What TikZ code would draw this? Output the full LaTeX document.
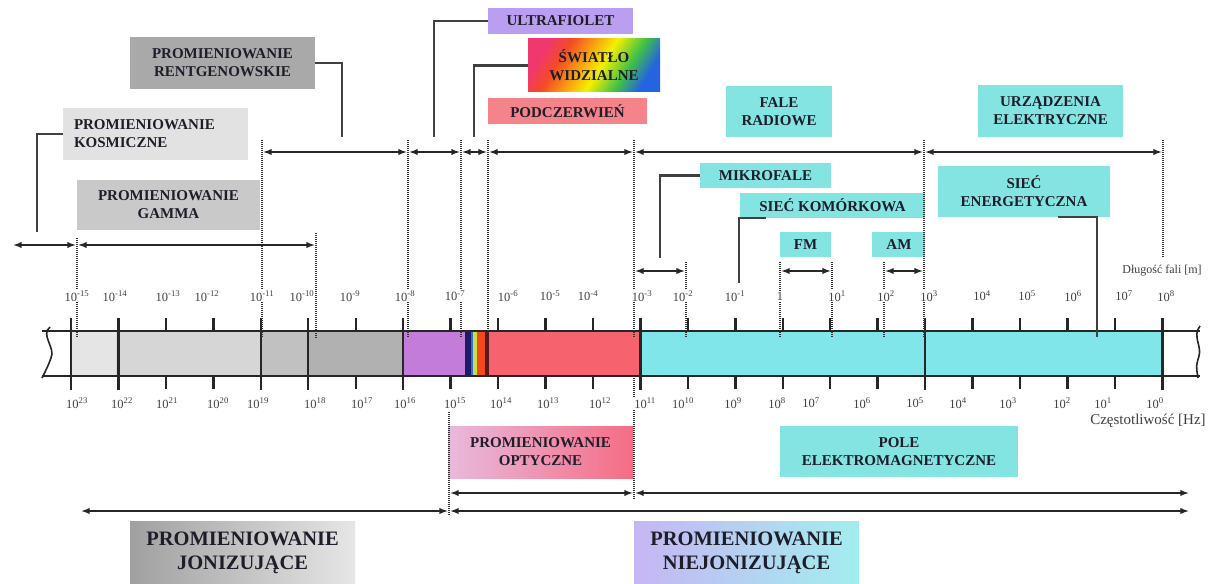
\documentclass[tikz,border=0pt]{standalone}
\usepackage{fontspec}
\setmainfont{Liberation Serif}
\usetikzlibrary{positioning,calc}
\definecolor{tagtext}{HTML}{1E1E2A}
\definecolor{leadgray}{HTML}{404040}
\definecolor{rtgfill}{HTML}{A9A9A9}
\definecolor{kosfill}{HTML}{E2E2E2}
\definecolor{gamfill}{HTML}{C9C9C9}
\definecolor{uvfill}{HTML}{BA9FF0}
\definecolor{irfill}{HTML}{F4838A}
\definecolor{radfill}{HTML}{84E4E2}
\definecolor{barA}{HTML}{E5E5E5}
\definecolor{barB}{HTML}{D6D6D6}
\definecolor{barC}{HTML}{C1C1C1}
\definecolor{barD}{HTML}{B1B1B1}
\definecolor{barUV}{HTML}{C47CDB}
\definecolor{barNavy}{HTML}{1C1C66}
\definecolor{barBlue}{HTML}{3A6AE0}
\definecolor{barLime}{HTML}{C8E040}
\definecolor{barOrange}{HTML}{F24A1A}
\definecolor{barDark}{HTML}{5A1A1A}
\definecolor{barIR}{HTML}{F6636F}
\definecolor{barRad}{HTML}{80E6EA}
\definecolor{optL}{HTML}{E8BADC}
\definecolor{optR}{HTML}{F66C84}
\definecolor{jonL}{HTML}{A0A0A0}
\definecolor{jonR}{HTML}{E6E6E6}
\definecolor{niejL}{HTML}{C6B6F4}
\definecolor{niejR}{HTML}{A2EEEE}
\definecolor{rbPink}{HTML}{F0386E}
\definecolor{rbRed}{HTML}{F44A24}
\definecolor{rbOrange}{HTML}{F8A010}
\definecolor{rbYellow}{HTML}{F4F000}
\definecolor{rbGreen}{HTML}{40C048}
\definecolor{rbBlue}{HTML}{2464E0}
\pgfdeclarehorizontalshading{rainbow}{100bp}{color(0bp)=(rbPink); color(25bp)=(rbPink); color(34bp)=(rbRed); color(44bp)=(rbOrange); color(53bp)=(rbYellow); color(65bp)=(rbGreen); color(75bp)=(rbBlue); color(100bp)=(rbBlue)}

\begin{document}
\begin{tikzpicture}[x=1pt,y=-1pt,
    tick label/.style={text=black!75, fill=white, font=\fontsize{12.5}{13}\selectfont, inner sep=1pt}]
  \tikzstyle{tag}=[text=tagtext, font=\fontsize{15}{18}\selectfont\bfseries, align=center, inner sep=0pt]
  \tikzstyle{big tag}=[tag, font=\fontsize{20.5}{24}\selectfont\bfseries]
  \tikzstyle{span}=[latex-latex, line width=1.8pt, black!85, shorten <=1.5pt, shorten >=1.5pt]
  \tikzstyle{lead}=[line width=2.4pt, leadgray]
  \tikzstyle{guide}=[dash pattern=on 1pt off 1pt, line width=1.2pt, black!80]
  \tikzstyle{bar edge}=[line width=1.6pt, black!85]
  \tikzstyle{scaletick}=[line width=2.4pt, black!85]
  \useasboundingbox (0,0) rectangle (1214,583);

  % bar of the spectrum
  \foreach \a/\b/\c in {71/116/barA, 116/260/barB, 260/307/barC, 307/403/barD,
      403/465/barUV, 465/471/barNavy, 471/473/barBlue, 473/477/barLime,
      477/485/barOrange, 485/489/barDark, 489/639/barIR, 639/1162/barRad}
    \fill[\c] (\a,331) rectangle (\b,376);
  \draw[bar edge] (42,331) -- (1200,331) (42,376) -- (1200,376);
  \draw[bar edge] (50,327) .. controls (40,335) and (56,348) .. (51,358) .. controls (48,366) .. (42,378);
  \draw[bar edge] (1200,326) .. controls (1192,336) and (1202,346) .. (1199,356) .. controls (1196,366) .. (1198,378);
  \foreach \k in {0,1,4,5,7,12,18,23}
    \draw[scaletick] (71+47.45*\k,318) -- (71+47.45*\k,390);
  \foreach \k in {2,3,6,8,9,10,11,13,14,15,16,17,19,20,21,22}
    \draw[scaletick] (71+47.45*\k,318) -- (71+47.45*\k,331) (71+47.45*\k,376) -- (71+47.45*\k,389);

  % boxes
  \node[tag, fill=rtgfill, minimum width=185pt, minimum height=52pt] (rtg) at (222.5,63) {PROMIENIOWANIE\\RENTGENOWSKIE};
  \node[tag, fill=kosfill, align=left, text width=163pt, minimum width=185pt, minimum height=52pt] (kos) at (155.5,134) {PROMIENIOWANIE\\KOSMICZNE};
  \node[tag, fill=gamfill, minimum width=183pt, minimum height=50pt] (gam) at (168.5,205) {PROMIENIOWANIE\\GAMMA};
  \node[tag, fill=uvfill, minimum width=145pt, minimum height=26pt] (uv) at (560.5,21) {ULTRAFIOLET};
  \node[tag, shading=rainbow, shading angle=-32, minimum width=132pt, minimum height=53pt] (vis) at (594,65.5) {ŚWIATŁO\\WIDZIALNE};
  \node[tag, fill=irfill, minimum width=159pt, minimum height=26pt] (ir) at (567.5,111) {PODCZERWIEŃ};
  \node[tag, fill=radfill, minimum width=106pt, minimum height=51pt] (rad) at (779,111.5) {FALE\\RADIOWE};
  \node[tag, fill=radfill, minimum width=145pt, minimum height=52pt] (urz) at (1050.5,111) {URZĄDZENIA\\ELEKTRYCZNE};
  \node[tag, fill=radfill, minimum width=131pt, minimum height=25pt] (mik) at (765.5,175.5) {MIKROFALE};
  \node[tag, fill=radfill, minimum width=185pt, minimum height=25pt] (kom) at (832.5,205.5) {SIEĆ KOMÓRKOWA};
  \node[tag, fill=radfill, minimum width=51pt, minimum height=25pt] (fm) at (805.5,244.5) {FM};
  \node[tag, fill=radfill, minimum width=53pt, minimum height=25pt, right=41pt of fm] (am) {AM};
  \node[tag, fill=radfill, minimum width=172pt, minimum height=51pt] (ene) at (1024,191.5) {SIEĆ\\ENERGETYCZNA};
  \node[tag, left color=optL, right color=optR, minimum width=185pt, minimum height=52pt] (opt) at (540.5,452) {PROMIENIOWANIE\\OPTYCZNE};
  \node[tag, fill=radfill, minimum width=238pt, minimum height=51pt] (pole) at (899,451.5) {POLE\\ELEKTROMAGNETYCZNE};
  \node[big tag, left color=jonL, right color=jonR, minimum width=225pt, minimum height=64pt] (jon) at (242.5,553) {PROMIENIOWANIE\\JONIZUJĄCE};
  \node[big tag, left color=niejL, right color=niejR, minimum width=225pt, minimum height=64pt] (niej) at (746.5,553) {PROMIENIOWANIE\\NIEJONIZUJĄCE};

  % leads from the boxes
  \coordinate (rtgEnd) at (342,137);
  \coordinate (kosEnd) at (37,232);
  \coordinate (uvEnd) at (434,137);
  \coordinate (visEnd) at (474,137);
  \coordinate (mikEnd) at (660,258);
  \coordinate (komEnd) at (739,283);
  \coordinate (eneEnd) at (1097,337);
  \draw[lead] (rtg.east) -| (rtgEnd);
  \draw[lead] (kos.west) -| (kosEnd);
  \draw[lead] (uv.west) -| (uvEnd);
  \draw[lead] (vis.west) -| (visEnd);
  \draw[lead] (mik.west) -| (mikEnd);
  \draw[lead] ([xshift=26pt]kom.south west) -| (komEnd);
  \draw[lead] ([xshift=-52pt]ene.south east) -| (eneEnd);

  % band limits
  \coordinate (kosL) at (12,0);
  \coordinate (gamL) at (77,0);
  \coordinate (rtgL) at (262,0);
  \coordinate (gamR) at (316,0);
  \coordinate (uvL) at (408,0);
  \coordinate (visL) at (461,0);
  \coordinate (irL) at (488,0);
  \coordinate (radL) at (634,0);
  \coordinate (mikR) at (686,0);
  \coordinate (fmL) at (780,0);
  \coordinate (fmR) at (832,0);
  \coordinate (amL) at (884,0);
  \coordinate (urzL) at (924,0);
  \coordinate (urzR) at (1163,0);
  \coordinate (optL) at (449,0);
  \coordinate (jonL) at (80,0);
  \coordinate (farR) at (1190,0);
  \coordinate (rowA) at (0,152);
  \coordinate (rowB) at (0,245);
  \coordinate (rowC) at (0,271);
  \coordinate (rowD) at (0,493);
  \coordinate (rowE) at (0,511);
  \foreach \c/\t/\b in {gamL/238/338, rtgL/140/338, gamR/233/338, uvL/140/338, visL/140/338,
      irL/140/334, radL/140/338, mikR/262/338, fmL/262/338, fmR/262/338, amL/262/338,
      urzL/140/338, urzR/140/258, radL/378/500, optL/412/516}
    \draw[guide] ($(\c)+(0,\t)$) -- ($(\c)+(0,\b)$);

  % wavelength and frequency
  \foreach \e/\x [count=\i] in {-15/77, -14/115, -13/168, -12/207, -11/262, -10/302, -9/350, -8/405,
      -7/455, -6/508, -5/550, -4/588, -3/642, -2/683, -1/735}
    \node[tick label] (w\i) at (\x,296) {10\textsuperscript{\e}};
  \node[tick label] (w16) at (780,296) {1};
  \foreach \e/\x [count=\i from 17] in {1/837, 2/886, 3/929, 4/982, 5/1027, 6/1073, 7/1124, 8/1166}
    \node[tick label] (w\i) at (\x,296) {10\textsuperscript{\e}};
  \foreach \e/\x [count=\i] in {23/77, 22/122, 21/167, 20/218, 19/258, 18/315, 17/362, 16/405,
      15/455, 14/501, 13/548, 12/600, 11/645, 10/683, 9/733, 8/777, 7/811, 6/862, 5/915,
      4/958, 3/1008, 2/1062, 1/1103, 0/1155}
    \node[tick label] (f\i) at (\x,403) {10\textsuperscript{\e}};
  \node[tick label, font=\fontsize{12}{13}\selectfont] (dl) at (1162,271) {Długość fali [m]};
  \node[tick label, font=\fontsize{15}{16}\selectfont] (cz) at (1148,421) {Częstotliwość [Hz]};

  \foreach \a/\b/\r in {rtgL/uvL/rowA, uvL/visL/rowA, visL/irL/rowA, irL/radL/rowA,
      radL/urzL/rowA, urzL/urzR/rowA, kosL/gamL/rowB, gamL/gamR/rowB,
      radL/mikR/rowC, fmL/fmR/rowC, amL/urzL/rowC,
      optL/radL/rowD, radL/farR/rowD, jonL/optL/rowE, optL/farR/rowE}
    \draw[span] (\a |- \r) -- (\b |- \r);
\end{tikzpicture}
\end{document}
